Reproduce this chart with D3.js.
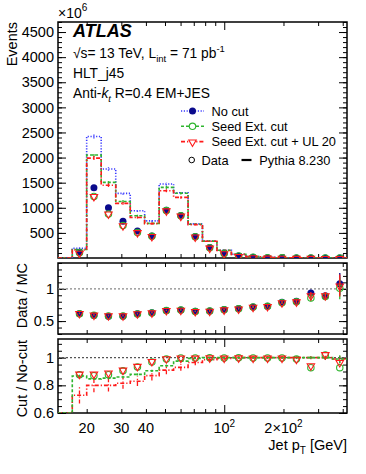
<!DOCTYPE html>
<html>
<head>
<meta charset="utf-8">
<script src="https://cdn.jsdelivr.net/npm/d3@7"></script>
<style>
  body { margin: 0; background: #fff; }
  text { font-family: "Liberation Sans", Arial, sans-serif; }
</style>
</head>
<body>
<div id="chart"></div>
<script>
// jet pT bin edges [GeV]
const ptEdges = [14.3, 16.9, 20.0, 23.7, 28.1, 33.3, 39.4, 46.7, 55.3, 65.5, 77.5,
                 91.8, 108.7, 128.8, 152.5, 180.6, 213.9, 253.2, 299.9, 355.1, 420.5];

// MC (Pythia 8.230), events x10^6
const mcNoCut    = [0, 195, 2420, 1773, 1287, 940, 740, 1473, 1300, 680, 340, 155, 75, 28, 12, 5, 2.5, 1.2, 0.6, 0.3];
const mcSeed     = [0, 170, 2050, 1507, 1125, 840, 690, 1407, 1290, 673, 337, 153, 73, 27, 11, 5, 2.4, 1.2, 0.6, 0.3];
const mcSeedUL   = [0, 160, 1990, 1450, 1087, 807, 685, 1340, 1207, 665, 333, 150, 72, 26, 11, 5, 2.4, 1.2, 0.6, 0.3];
const mcErr      = [0, 12, 40, 35, 28, 22, 18, 30, 25, 15, 10, 5, 3, 2, 1, 1, 0.5, 0.3, 0.2, 0.1];

// data
const dataNoCut  = [0, 115, 1400, 1000, 730, 540, 440, 953, 845, 427, 207, 93, 40, 15, 6, 3, 1.5, 0.8, 0.4, 0.2];
const dataSeed   = [0, 103, 1225, 875, 645, 510, 432, 945, 840, 425, 205, 92, 40, 15, 6, 3, 1.5, 0.8, 0.4, 0.2];
const dataSeedUL = [0, 105, 1235, 885, 650, 515, 436, 948, 842, 426, 206, 93, 40, 15, 6, 3, 1.5, 0.8, 0.4, 0.2];

// Data / MC
const r1NoCut  = [null, 0.613, 0.587, 0.576, 0.576, 0.613, 0.628, 0.663, 0.673, 0.653, 0.658, 0.678, 0.694, 0.72, 0.73, 0.79, 0.806, 0.934, 0.893, 1.077];
const r1Seed   = [null, 0.615, 0.592, 0.58, 0.58, 0.61, 0.625, 0.665, 0.67, 0.65, 0.655, 0.675, 0.69, 0.718, 0.728, 0.785, 0.8, 0.857, 0.88, 1.01];
const r1SeedUL = [null, 0.625, 0.6, 0.59, 0.588, 0.62, 0.635, 0.67, 0.675, 0.655, 0.66, 0.68, 0.695, 0.722, 0.732, 0.79, 0.805, 0.9, 0.9, 1.05];
const r1Err    = [0, 0.01, 0.008, 0.008, 0.008, 0.008, 0.008, 0.008, 0.008, 0.008, 0.01, 0.01, 0.012, 0.015, 0.018, 0.02, 0.03, 0.05, 0.05, 0.17];

// Cut / No-cut
const r2McSeed     = [0, 0.867, 0.847, 0.852, 0.86, 0.879, 0.905, 0.942, 0.975, 0.995, 1.0, 1.0, 1.0, 1.0, 1.0, 1.0, 1.0, 1.0, 1.0, 0.99];
const r2McSeedErr  = [0, 0.01, 0.008, 0.008, 0.008, 0.008, 0.008, 0.008, 0.008, 0.005, 0.005, 0.005, 0.005, 0.005, 0.005, 0.006, 0.008, 0.01, 0.015, 0.03];
const r2McSeedUL   = [0, 0.728, 0.80, 0.80, 0.815, 0.83, 0.87, 0.91, 0.93, 0.965, 0.985, 0.995, 1.0, 1.0, 1.0, 1.0, 1.0, 1.0, 1.0, 0.99];
const r2McULErr    = [0, 0.06, 0.05, 0.045, 0.04, 0.035, 0.035, 0.03, 0.025, 0.02, 0.015, 0.012, 0.01, 0.01, 0.01, 0.01, 0.01, 0.012, 0.015, 0.03];
const r2DataSeed   = [null, 0.877, 0.87, 0.877, 0.905, 0.932, 0.968, 0.99, 0.998, 0.998, 1.0, 0.998, 1.0, 0.998, 0.998, 0.998, 0.99, 0.928, 1.02, 0.928];
const r2DataSeedUL = [null, 0.884, 0.884, 0.892, 0.913, 0.94, 0.976, 0.995, 1.0, 1.0, 1.002, 1.0, 1.002, 1.0, 1.0, 1.0, 0.992, 0.945, 1.025, 0.968];

const xTickLabels = [
    { v: 20, base: '20' }, { v: 30, base: '30' }, { v: 40, base: '40' },
    { v: 100, base: '10', sup: '2' }, { v: 200, base: '2\u00d710', sup: '2' }
];
const legendLabels = ['No cut', 'Seed Ext. cut', 'Seed Ext. cut + UL 20'];

const BLUE = '#3a3aff', NAVY = '#0a0a8c', GREEN = '#2fb52f', RED = '#ff1a1a';

const width = 366, height = 474;
const left = 58, right = 347;
const mainP = { top: 22, bottom: 258 };
const r1P = { top: 263, bottom: 334 };
const r2P = { top: 339, bottom: 413 };

const svg = d3.select('#chart')
    .append('svg')
    .attr('width', width)
    .attr('height', height);

const x = d3.scaleLog().domain([ptEdges[0], ptEdges[20]]).range([left, right]);
const yMain = d3.scaleLinear().domain([0, 4700]).range([mainP.bottom, mainP.top]);
const yR1 = d3.scaleLinear().domain([0.3, 1.4]).range([r1P.bottom, r1P.top]);
const yR2 = d3.scaleLinear().domain([0.6, 1.135]).range([r2P.bottom, r2P.top]);

const centers = d3.range(20).map(i => Math.sqrt(ptEdges[i] * ptEdges[i + 1]));

const xTicksMinor = [20, 30, 40, 50, 60, 70, 80, 90, 200, 300, 400];

function clampY(y, v) {
    const [a, b] = y.domain();
    return y(Math.max(a, Math.min(b, v)));
}

function stepPath(vals, y) {
    const pts = vals.map((v, i) => [ptEdges[i], v]);
    pts.push([ptEdges[20], vals[19]]);
    return d3.line()
        .x(d => x(d[0]))
        .y(d => clampY(y, d[1]))
        .curve(d3.curveStepAfter)(pts);
}

function addClip(id, p) {
    svg.append('clipPath').attr('id', id)
        .append('rect')
        .attr('x', left).attr('y', p.top)
        .attr('width', right - left).attr('height', p.bottom - p.top);
}
addClip('clipMain', mainP);
addClip('clipR1', r1P);
addClip('clipR2', r2P);

// ticks on all four sides of a panel
function drawAxes(p, y, major, minor, majorLen, labels) {
    const g = svg.append('g');
    g.append('g')
        .attr('transform', `translate(${left},0)`)
        .call(d3.axisLeft(y).tickValues(major).tickSize(-majorLen).tickPadding(4)
            .tickFormat(labels ? d3.format('') : ''));
    g.append('g')
        .attr('transform', `translate(${left},0)`)
        .call(d3.axisLeft(y).tickValues(minor).tickSize(-majorLen / 2).tickFormat(''));
    g.append('g')
        .attr('transform', `translate(${right},0)`)
        .call(d3.axisRight(y).tickValues(major).tickSize(-majorLen).tickFormat(''));
    g.append('g')
        .attr('transform', `translate(${right},0)`)
        .call(d3.axisRight(y).tickValues(minor).tickSize(-majorLen / 2).tickFormat(''));

    g.append('g')
        .attr('transform', `translate(0,${p.bottom})`)
        .call(d3.axisBottom(x).tickValues(xTicksMinor).tickSize(-4).tickFormat(''));
    g.append('g')
        .attr('transform', `translate(0,${p.bottom})`)
        .call(d3.axisBottom(x).tickValues([100]).tickSize(-8).tickFormat(''));
    g.append('g')
        .attr('transform', `translate(0,${p.top})`)
        .call(d3.axisTop(x).tickValues(xTicksMinor).tickSize(-4).tickFormat(''));
    g.append('g')
        .attr('transform', `translate(0,${p.top})`)
        .call(d3.axisTop(x).tickValues([100]).tickSize(-8).tickFormat(''));

    g.selectAll('.domain').remove();
    g.selectAll('.tick line').attr('stroke', '#000').attr('stroke-width', 1);
    g.selectAll('.tick text')
        .attr('fill', '#000')
        .style('font-family', '"Liberation Sans", Arial, sans-serif')
        .style('font-size', '14.5px');

    svg.append('rect')
        .attr('x', left).attr('y', p.top)
        .attr('width', right - left).attr('height', p.bottom - p.top)
        .attr('fill', 'none')
        .attr('stroke', '#000')
        .attr('stroke-width', 1.5);
}

function ticksBetween(a, b, step) {
    const out = [];
    for (let v = a; v <= b + 1e-9; v += step) out.push(+v.toFixed(4));
    return out;
}

drawAxes(mainP, yMain, ticksBetween(500, 4500, 500), ticksBetween(100, 4700, 100), 8, true);
drawAxes(r1P, yR1, [0.5, 1], ticksBetween(0.3, 1.4, 0.1), 8, true);
drawAxes(r2P, yR2, [0.6, 0.8, 1], ticksBetween(0.6, 1.13, 0.05), 8, true);

const TRI = 24;

// markers
function drawMarkers(g, vals, y, kind, color, err) {
    const pts = vals.map((v, i) => ({ v, i })).filter(d => d.v !== null && d.v > 0);
    if (err) {
        g.selectAll(null)
            .data(pts.filter(d => err[d.i] > 0))
            .enter()
            .append('line')
            .attr('x1', d => x(centers[d.i])).attr('x2', d => x(centers[d.i]))
            .attr('y1', d => y(d.v - err[d.i])).attr('y2', d => y(d.v + err[d.i]))
            .attr('stroke', color).attr('stroke-width', 1.3);
    }
    if (kind === 'dot') {
        g.selectAll(null).data(pts).enter()
            .append('circle')
            .attr('cx', d => x(centers[d.i])).attr('cy', d => y(d.v))
            .attr('r', 3.5)
            .attr('fill', color);
    } else if (kind === 'circle') {
        g.selectAll(null).data(pts).enter()
            .append('circle')
            .attr('cx', d => x(centers[d.i])).attr('cy', d => y(d.v))
            .attr('r', 3.2)
            .attr('fill', 'none')
            .attr('stroke', color).attr('stroke-width', 1.1);
    } else {
        g.selectAll(null).data(pts).enter()
            .append('path')
            .attr('d', d3.symbol().type(d3.symbolTriangle).size(TRI))
            .attr('transform', d => `translate(${x(centers[d.i])},${y(d.v) + 0.6}) rotate(180)`)
            .attr('fill', 'none')
            .attr('stroke', color).attr('stroke-width', 1.1);
    }
}

function drawHist(g, vals, y, color, dash, err) {
    g.append('path')
        .attr('d', stepPath(vals, y))
        .attr('fill', 'none')
        .attr('stroke', color)
        .attr('stroke-width', 1.6)
        .attr('stroke-dasharray', dash);
    if (err) {
        g.selectAll(null)
            .data(vals.map((v, i) => ({ v, i })).filter(d => err[d.i] > 0))
            .enter()
            .append('line')
            .attr('x1', d => x(centers[d.i])).attr('x2', d => x(centers[d.i]))
            .attr('y1', d => clampY(y, d.v - err[d.i])).attr('y2', d => clampY(y, d.v + err[d.i]))
            .attr('stroke', color).attr('stroke-width', 1.3)
            .attr('stroke-dasharray', dash);
    }
}

const DOT = '1.2,1.6', DASH = '3,2', DASHDOT = '4,2,1.2,2';

// main panel
const gMain = svg.append('g').attr('clip-path', 'url(#clipMain)');
drawHist(gMain, mcNoCut, yMain, BLUE, DOT, mcErr);
drawHist(gMain, mcSeed, yMain, GREEN, DASH, mcErr);
drawHist(gMain, mcSeedUL, yMain, RED, DASHDOT, mcErr);
drawMarkers(gMain, dataNoCut, yMain, 'dot', NAVY);
drawMarkers(gMain, dataSeed, yMain, 'circle', GREEN);
drawMarkers(gMain, dataSeedUL, yMain, 'tri', RED);

// Data / MC panel
const gR1 = svg.append('g').attr('clip-path', 'url(#clipR1)');
gR1.append('line')
    .attr('x1', left).attr('x2', right)
    .attr('y1', yR1(1)).attr('y2', yR1(1))
    .attr('stroke', '#888').attr('stroke-width', 1.2).attr('stroke-dasharray', '2,2');
drawMarkers(gR1, r1NoCut, yR1, 'dot', NAVY, r1Err);
drawMarkers(gR1, r1Seed, yR1, 'circle', GREEN, r1Err);
drawMarkers(gR1, r1SeedUL, yR1, 'tri', RED, r1Err);

// Cut / No-cut panel
const gR2 = svg.append('g').attr('clip-path', 'url(#clipR2)');
gR2.append('line')
    .attr('x1', left).attr('x2', right)
    .attr('y1', yR2(1)).attr('y2', yR2(1))
    .attr('stroke', '#555').attr('stroke-width', 1.2).attr('stroke-dasharray', '2,2');
drawHist(gR2, r2McSeedUL, yR2, RED, DASHDOT, r2McULErr);
drawHist(gR2, r2McSeed, yR2, GREEN, DASH, r2McSeedErr);
drawMarkers(gR2, r2DataSeed, yR2, 'circle', GREEN);
drawMarkers(gR2, r2DataSeedUL, yR2, 'tri', RED);

// x tick labels
const xl = svg.append('g').style('font-size', '14.5px');
xTickLabels.forEach(t => {
    const tx = xl.append('text')
        .attr('x', x(t.v))
        .attr('y', 433)
        .attr('text-anchor', 'middle');
    tx.append('tspan').text(t.base);
    if (t.sup) tx.append('tspan').attr('dy', -6).style('font-size', '10px').text(t.sup);
});

// axis titles
const xt = svg.append('text')
    .attr('x', right).attr('y', 450)
    .attr('text-anchor', 'end')
    .style('font-size', '14.5px');
xt.append('tspan').text('Jet p');
xt.append('tspan').attr('dy', 4).style('font-size', '10px').text('T');
xt.append('tspan').attr('dy', -4).text(' [GeV]');

function yTitle(label, yTop, xBase) {
    svg.append('text')
        .attr('transform', `translate(${xBase},${yTop}) rotate(-90)`)
        .attr('text-anchor', 'end')
        .style('font-size', '14.5px')
        .text(label);
}
yTitle('Events', mainP.top, 17);
yTitle('Data / MC', r1P.top, 27);
yTitle('Cut / No-cut', r2P.top + 1, 27);

const exp = svg.append('text').attr('x', left).attr('y', 18).style('font-size', '14px');
exp.append('tspan').text('\u00d710');
exp.append('tspan').attr('dy', -7).style('font-size', '10px').text('6');

// ATLAS label block
svg.append('text')
    .attr('x', 73).attr('y', 37)
    .style('font-size', '18px')
    .style('font-weight', 'bold')
    .style('font-style', 'italic')
    .text('ATLAS');

const info1 = svg.append('text').attr('x', 73).attr('y', 58).style('font-size', '13.8px');
info1.append('tspan').text('\u221as= 13 TeV, L');
info1.append('tspan').attr('dy', 4).style('font-size', '9.5px').text('int');
info1.append('tspan').attr('dy', -4).text(' = 71 pb');
info1.append('tspan').attr('dy', -6).style('font-size', '9.5px').text('-1');

svg.append('text').attr('x', 73).attr('y', 78).style('font-size', '13.8px').text('HLT_j45');

const info3 = svg.append('text').attr('x', 73).attr('y', 98).style('font-size', '13.8px');
info3.append('tspan').text('Anti-');
info3.append('tspan').style('font-style', 'italic').text('k');
info3.append('tspan').attr('dy', 4).style('font-size', '9.5px').style('font-style', 'italic').text('t');
info3.append('tspan').attr('dy', -4).text(' R=0.4 EM+JES');

// legend
const leg = svg.append('g');
const legStyles = [
    { color: BLUE, mcolor: NAVY, dash: DOT, kind: 'dot' },
    { color: GREEN, mcolor: GREEN, dash: DASH, kind: 'circle' },
    { color: RED, mcolor: RED, dash: DASHDOT, kind: 'tri' }
];
legendLabels.forEach((lab, i) => {
    const ly = 111 + i * 15.3;
    const s = legStyles[i];
    leg.append('line')
        .attr('x1', 181).attr('x2', 204)
        .attr('y1', ly).attr('y2', ly)
        .attr('stroke', s.color).attr('stroke-width', 1.6)
        .attr('stroke-dasharray', s.dash);
    if (s.kind === 'dot') {
        leg.append('circle').attr('cx', 192.5).attr('cy', ly).attr('r', 3.5).attr('fill', s.mcolor);
    } else if (s.kind === 'circle') {
        leg.append('circle').attr('cx', 192.5).attr('cy', ly).attr('r', 3.2)
            .attr('fill', '#fff').attr('stroke', s.mcolor).attr('stroke-width', 1.1);
    } else {
        leg.append('path')
            .attr('d', d3.symbol().type(d3.symbolTriangle).size(TRI))
            .attr('transform', `translate(192.5,${ly + 0.6}) rotate(180)`)
            .attr('fill', '#fff').attr('stroke', s.mcolor).attr('stroke-width', 1.1);
    }
    leg.append('text')
        .attr('x', 211.5).attr('y', ly + 4.6)
        .style('font-size', '12.8px')
        .text(lab);
});

leg.append('circle').attr('cx', 191.7).attr('cy', 160).attr('r', 2.8)
    .attr('fill', 'none').attr('stroke', '#000').attr('stroke-width', 1);
leg.append('text').attr('x', 201.5).attr('y', 164.6).style('font-size', '12.8px').text('Data');
leg.append('line').attr('x1', 241.5).attr('x2', 251.5).attr('y1', 160).attr('y2', 160)
    .attr('stroke', '#000').attr('stroke-width', 2.2);
leg.append('text').attr('x', 259.3).attr('y', 164.6).style('font-size', '12.8px').text('Pythia 8.230');
</script>
</body>
</html>
